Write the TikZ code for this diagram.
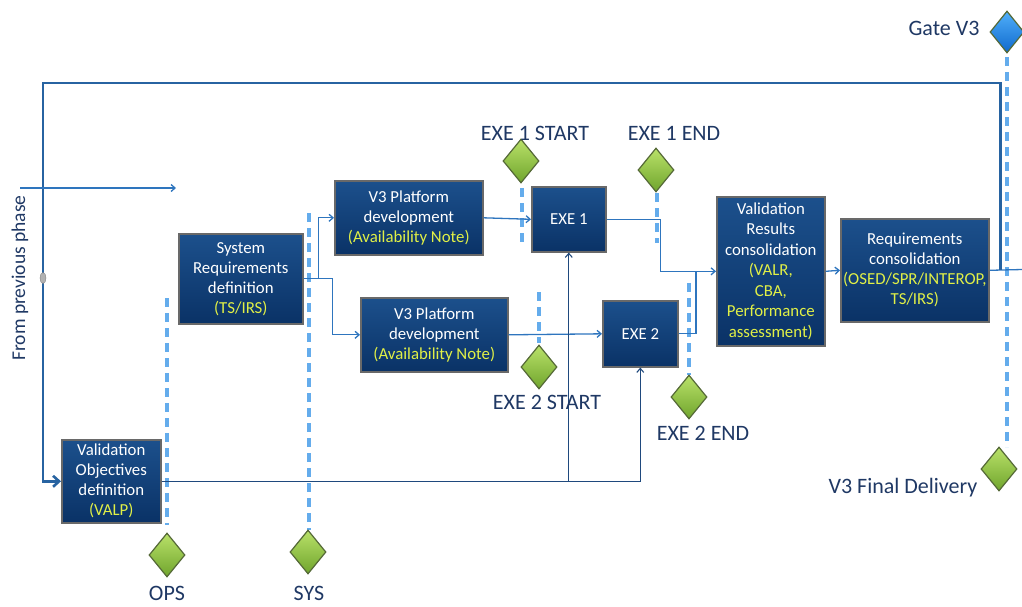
\documentclass[tikz,border=0pt]{standalone}
\usepackage{fontspec}
\setmainfont{Carlito}
\usetikzlibrary{shapes.geometric,arrows.meta}
\definecolor{boxtop}{RGB}{28,80,140}
\definecolor{boxbot}{RGB}{10,50,102}
\definecolor{boxedge}{RGB}{105,105,105}
\definecolor{ylw}{RGB}{225,240,70}
\definecolor{lblue}{RGB}{31,56,100}
\definecolor{conn}{RGB}{46,117,190}
\definecolor{dconn}{RGB}{31,73,125}
\definecolor{msdash}{RGB}{100,172,236}
\definecolor{gtop}{RGB}{185,225,105}
\definecolor{gbot}{RGB}{112,165,45}
\definecolor{gedge}{RGB}{85,105,55}
\definecolor{btop}{RGB}{80,175,250}
\definecolor{bbot}{RGB}{15,105,205}
\begin{document}
\begin{tikzpicture}[x=1pt,y=-1pt,
  box/.style={draw=boxedge, line width=1.6pt, top color=boxtop, bottom color=boxbot,
    text=white, align=center, font=\fontsize{16.8}{20}\selectfont, inner sep=0pt, anchor=north west},
  cn/.style={draw=conn, line width=1.3pt},
  dk/.style={draw=dconn, line width=1.1pt},
  arr/.style={-{Straight Barb[length=4pt,width=7pt]}},
  bigloop/.style={draw=conn!85!black, line width=2.6pt},
  msline/.style={draw=msdash, line width=3.5pt, dash pattern=on 9pt off 6pt},
  gdia/.style={diamond, draw=gedge, line width=1.2pt, top color=gtop, bottom color=gbot,
    minimum width=36pt, minimum height=44pt, inner sep=0pt},
  bdia/.style={diamond, draw=gedge, line width=1.2pt, top color=btop, bottom color=bbot,
    minimum width=34pt, minimum height=42pt, inner sep=0pt},
  lbl/.style={text=lblue, font=\fontsize{22}{24}\selectfont, inner sep=0pt}]
\useasboundingbox (0,0) rectangle (1022,606);

% milestone dashed lines
\draw[msline] (167,298) -- (167,525);
\draw[msline] (309,213) -- (309,530);
\draw[msline] (522,188) -- (522,243);
\draw[msline] (657,193) -- (657,243);
\draw[msline] (539,292) -- (539,343);
\draw[msline] (689,283) -- (689,375);
\draw[msline] (1007,57) -- (1007,447);

% boxes
\node[box, minimum width=124pt, minimum height=90pt] (sysreq) at (178,233)
  {System\\Requirements\\definition\\\textcolor{ylw}{(TS/IRS)}};
\node[box, minimum width=148pt, minimum height=74pt] (v3p1) at (334,180)
  {V3 Platform\\development\\\textcolor{ylw}{(Availability Note)}};
\node[box, minimum width=147pt, minimum height=74pt] (v3p2) at (360,297)
  {V3 Platform\\development\\\textcolor{ylw}{(Availability Note)}};
\node[box, minimum width=74pt, minimum height=65pt] (exe1) at (531,186) {EXE 1};
\node[box, minimum width=75pt, minimum height=66pt] (exe2) at (602,300) {EXE 2};
\node[box, minimum width=108pt, minimum height=149pt, font=\fontsize{16.8}{20.5}\selectfont] (valres) at (716,196)
  {Validation\\Results\\consolidation\\\textcolor{ylw}{(VALR,}\\\textcolor{ylw}{CBA,}\\\textcolor{ylw}{Performance}\\\textcolor{ylw}{assessment)}};
\node[box, minimum width=148pt, minimum height=103pt] (reqcons) at (840,218)
  {Requirements\\consolidation\\\textcolor{ylw}{(OSED/SPR/INTEROP,}\\\textcolor{ylw}{TS/IRS)}};
\node[box, minimum width=99pt, minimum height=83pt] (vod) at (61,439)
  {Validation\\Objectives\\definition\\\textcolor{ylw}{(VALP)}};

% connectors
\draw[cn,arr] (sysreq.east) -- ++(15,0) |- (v3p1.west);
\draw[cn,arr] (sysreq.east) -- ++(29,0) |- (v3p2.west);
\draw[cn,arr] (v3p1.east) -- (exe1.west);
\draw[cn,arr] (v3p2.east) -- (exe2.west);
\draw[cn,arr] (exe1.east) -- ++(54,0) |- (valres.west);
\draw[cn] (exe2.east) -| ([xshift=-20pt]valres.west);
\draw[cn,arr] (valres.east) -- (reqcons.west);
\coordinate (outR) at (1022,269.5);
\draw[cn] (reqcons.east) -- (outR);
\draw[bigloop,-{Straight Barb[length=6pt,width=11pt]}] ([xshift=11pt]reqcons.east) |- (43,83) |- (vod.west);
\draw[dk,arr] (vod.east) -| (exe2.south);
\draw[dk,arr] (vod.east -| exe1.south) -- (exe1.south);

% from previous phase
\coordinate (fpA) at (20,188);
\coordinate (fpB) at (176,188);
\draw[cn,arr] (fpA) -- (fpB);
\node[ellipse, fill=gray!60, draw=gray, minimum width=6pt, minimum height=11pt, inner sep=0pt] (dot) at (43,278) {};
\node[lbl, rotate=90, font=\fontsize{19.5}{22}\selectfont] (fromprev) at (20,278) {From previous phase};

% milestones
\node[gdia] (ops) at (167,555) {};
\node[gdia] (sys) at (308,552) {};
\node[gdia] (e1s) at (521,161) {};
\node[gdia] (e1e) at (656,170) {};
\node[gdia] (e2s) at (539,367) {};
\node[gdia] (e2e) at (689,397) {};
\node[bdia] (gate) at (1007,32) {};
\node[gdia] (fd) at (999,469) {};

\node[lbl, anchor=base] (opsl) at (167,600) {OPS};
\node[lbl, anchor=base] (sysl) at (309,600) {SYS};
\node[lbl] (e1sl) at (535,133) {EXE 1 START};
\node[lbl] (e1el) at (674,133) {EXE 1 END};
\node[lbl] (e2sl) at (547,402) {EXE 2 START};
\node[lbl] (e2el) at (703,433) {EXE 2 END};
\node[lbl] (gatel) at (944,28) {Gate V3};
\node[lbl] (fdl) at (903,488) {V3 Final Delivery};
\end{tikzpicture}
\end{document}
